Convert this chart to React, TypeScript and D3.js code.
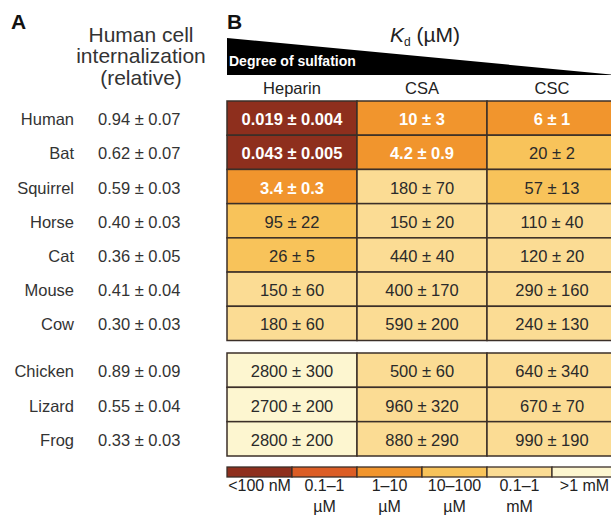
import React from "react";
import * as d3 from "d3";

const group1 = ["Human", "Bat", "Squirrel", "Horse", "Cat", "Mouse", "Cow"];
const group2 = ["Chicken", "Lizard", "Frog"];
const intMean = [0.94, 0.62, 0.59, 0.4, 0.36, 0.41, 0.3, 0.89, 0.55, 0.33];
const intErr = [0.07, 0.07, 0.03, 0.03, 0.05, 0.04, 0.03, 0.09, 0.04, 0.03];

const columns = ["Heparin", "CSA", "CSC"];
const heparinKd = [0.019, 0.043, 3.4, 95, 26, 150, 180, 2800, 2700, 2800];
const heparinErr = [0.004, 0.005, 0.3, 22, 5, 60, 60, 300, 200, 200];
const csaKd = [10, 4.2, 180, 150, 440, 400, 590, 500, 960, 880];
const csaErr = [3, 0.9, 70, 20, 40, 170, 200, 60, 320, 290];
const cscKd = [6, 20, 57, 110, 120, 290, 240, 640, 670, 990];
const cscErr = [1, 2, 13, 40, 20, 160, 130, 340, 70, 190];

const thresholds = [0.1, 1, 10, 100, 1000];
const binColors = ["#8e2f1d", "#dc5d25", "#f1952d", "#f8c35a", "#fbdc94", "#fdf6d0"];
const legendLine1 = ["<100 nM", "0.1\u20131", "1\u201310", "10\u2013100", "0.1\u20131", ">1 mM"];
const legendLine2 = ["", "\u00b5M", "\u00b5M", "\u00b5M", "mM", ""];

const FONT = "'Liberation Sans', Arial, Helvetica, sans-serif";
const W = 611;
const H = 516;

export default function App() {
  const kd = [heparinKd, csaKd, cscKd];
  const err = [heparinErr, csaErr, cscErr];
  const bin = (v: number) => d3.bisectLeft(thresholds, v);

  const x = d3.scaleBand<string>().domain(columns).range([227, 617]);
  const y1 = d3.scaleBand<string>().domain(group1).range([101, 340.5]);
  const y2 = d3.scaleBand<string>().domain(group2).range([353, 456]);
  const yOf = (i: number) => {
    if (i < group1.length) return { y: y1(group1[i])!, h: y1.bandwidth() };
    const s = group2[i - group1.length];
    return { y: y2(s)!, h: y2.bandwidth() };
  };
  const allSpecies = [...group1, ...group2];
  const lx = d3.scaleBand<number>().domain(d3.range(binColors.length)).range([227, 617]);

  const stroke = "#3b2f28";

  return (
    <svg
      width={W}
      height={H}
      style={{ position: "absolute", left: 0, top: 0, background: "#fff" }}
      fontFamily={FONT}
    >
      <rect x={0} y={0} width={W} height={H} fill="#fff" />
      {/* Panel A header */}
      <text x={11} y={29} fontSize={21} fontWeight="bold" fill="#111">A</text>
      <g fill="#333" fontSize={21} textAnchor="middle">
        <text x={141} y={41.5}>Human cell</text>
        <text x={141} y={63}>internalization</text>
        <text x={141} y={84.5}>(relative)</text>
      </g>

      {/* Panel B header */}
      <text x={227} y={29} fontSize={21} fontWeight="bold" fill="#111">B</text>
      <text x={425} y={42} fontSize={21} fill="#222" textAnchor="middle">
        <tspan fontStyle="italic">K</tspan>
        <tspan fontSize={12} dy={4}>d</tspan>
        <tspan dy={-4}> (µM)</tspan>
      </text>
      <polygon points="227,38 617,75 227,75" fill="#000" />
      <text x={229} y={66} fontSize={14} fontWeight="bold" fill="#fff">Degree of sulfation</text>

      {columns.map((c) => (
        <text
          key={c}
          x={x(c)! + x.bandwidth() / 2}
          y={94}
          fontSize={16.5}
          fill="#222"
          textAnchor="middle"
        >
          {c}
        </text>
      ))}

      {/* Left rows */}
      {allSpecies.map((s, i) => {
        const { y, h } = yOf(i);
        return (
          <g key={s} fontSize={16.5} fill="#333">
            <text x={74} y={y + h / 2 + 7} textAnchor="end">{s}</text>
            <text x={98} y={y + h / 2 + 7}>
              {intMean[i].toFixed(2)} ± {intErr[i].toFixed(2)}
            </text>
          </g>
        );
      })}

      {/* Table cells */}
      {columns.map((c, ci) =>
        allSpecies.map((s, i) => {
          const { y, h } = yOf(i);
          const b = bin(kd[ci][i]);
          const dark = b <= 2;
          return (
            <g key={c + s}>
              <rect
                x={x(c)!}
                y={y}
                width={x.bandwidth()}
                height={h}
                fill={binColors[b]}
                stroke={stroke}
                strokeWidth={1.5}
              />
              <text
                x={x(c)! + x.bandwidth() / 2}
                y={y + h / 2 + 7}
                fontSize={16.5}
                textAnchor="middle"
                fontWeight={dark ? "bold" : "normal"}
                fill={dark ? "#fff" : "#2a2a2a"}
              >
                {kd[ci][i]} ± {err[ci][i]}
              </text>
            </g>
          );
        })
      )}

      {/* Legend */}
      {binColors.map((col, i) => (
        <g key={i}>
          <rect
            x={lx(i)!}
            y={467}
            width={lx.bandwidth()}
            height={10}
            fill={col}
            stroke={stroke}
            strokeWidth={1.3}
          />
          <text
            x={lx(i)! + lx.bandwidth() / 2}
            y={491}
            fontSize={16}
            fill="#222"
            textAnchor="middle"
          >
            {legendLine1[i]}
          </text>
          {legendLine2[i] && (
            <text
              x={lx(i)! + lx.bandwidth() / 2}
              y={512}
              fontSize={16}
              fill="#222"
              textAnchor="middle"
            >
              {legendLine2[i]}
            </text>
          )}
        </g>
      ))}
    </svg>
  );
}
